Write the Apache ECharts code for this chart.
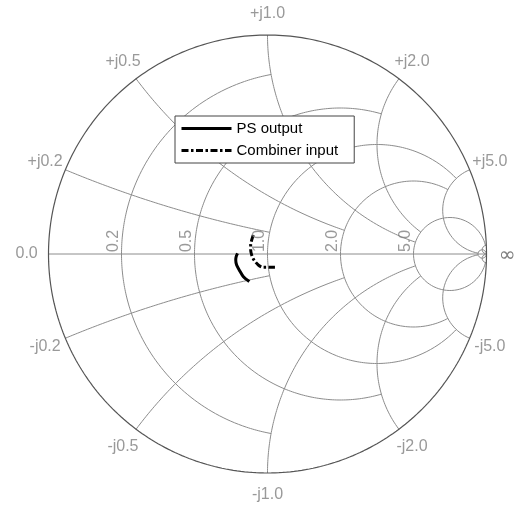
<!DOCTYPE html>
<html>
<head>
<meta charset="utf-8">
<title>Smith chart</title>
<script src="https://cdn.jsdelivr.net/npm/echarts@6/dist/echarts.min.js"></script>
<style>
  html, body { margin: 0; padding: 0; background: #fff; }
  #chart { width: 516px; height: 505px; }
</style>
</head>
<body>
<div id="chart"></div>
<script>
// Reflection coefficient traces (real / imaginary part of Gamma)
const psOutputRe = [-0.137, -0.143, -0.145, -0.141, -0.129, -0.110, -0.083];
const psOutputIm = [0.003, -0.012, -0.027, -0.050, -0.073, -0.104, -0.126];
const combinerRe = [-0.065, -0.072, -0.077, -0.077, -0.072, -0.062, -0.042, -0.019, 0.004, 0.034];
const combinerIm = [0.087, 0.064, 0.041, 0.021, -0.005, -0.027, -0.050, -0.061, -0.061, -0.061];

// Grid values: constant-resistance circles and constant-reactance arcs
const resistanceTicks = [0.2, 0.5, 1.0, 2.0, 5.0];
const reactanceTicks = [0.2, 0.5, 1.0, 2.0, 5.0];
// each grid line stops where it meets this value of the other family
const gridLimit = [1, 2, 5, 5, 50];
const fineValue = 50;

const FONT = '"Liberation Sans", Arial, Helvetica, sans-serif';
const GRID_COLOR = '#8c8c8c';
const LABEL_COLOR = '#808080';

// normalized impedance z = r + jx  ->  Gamma = (z - 1) / (z + 1)
function gamma(r, x) {
  const den = (r + 1) * (r + 1) + x * x;
  return [(r * r - 1 + x * x) / den, (2 * x) / den];
}

function arc(cx, cy, rad, a0, a1, n) {
  const pts = [];
  for (let i = 0; i <= n; i++) {
    const a = a0 + (a1 - a0) * i / n;
    pts.push([cx + rad * Math.cos(a), cy + rad * Math.sin(a)]);
  }
  return pts;
}

// constant-r circle, drawn through the left side between reactance -X and +X
function resistanceCircle(r, X) {
  const c = r / (1 + r), rho = 1 / (1 + r);
  if (X === Infinity) return arc(c, 0, rho, 0, 2 * Math.PI, 240);
  const g = gamma(r, X);
  const a1 = Math.atan2(g[1], g[0] - c);
  return arc(c, 0, rho, a1, 2 * Math.PI - a1, 240);
}

// constant-x arc from the outer circle (r = 0) up to resistance R
function reactanceArc(x, R) {
  const cy = 1 / x, rho = Math.abs(1 / x);
  const g0 = gamma(0, x);
  const g1 = R === Infinity ? [1, 0] : gamma(R, x);
  const a0 = Math.atan2(g0[1] - cy, g0[0] - 1);
  let a1 = Math.atan2(g1[1] - cy, g1[0] - 1);
  if (x > 0) { while (a1 < a0) a1 += 2 * Math.PI; }
  else { while (a1 > a0) a1 -= 2 * Math.PI; }
  return arc(1, cy, rho, a0, a1, 240);
}

function gridSeries(points, color, width) {
  return {
    type: 'line', data: points, showSymbol: false, symbol: 'none', silent: true,
    lineStyle: { color: color, width: width }, z: 1, clip: false, animation: false
  };
}

const series = [];
// real axis
series.push(gridSeries([[-1, 0], [1, 0]], GRID_COLOR, 1));
resistanceTicks.forEach((r, i) => series.push(gridSeries(resistanceCircle(r, gridLimit[i]), GRID_COLOR, 1)));
reactanceTicks.forEach((x, i) => {
  series.push(gridSeries(reactanceArc(x, gridLimit[i]), GRID_COLOR, 1));
  series.push(gridSeries(reactanceArc(-x, gridLimit[i]), GRID_COLOR, 1));
});
series.push(gridSeries(resistanceCircle(fineValue, Infinity), GRID_COLOR, 1));
series.push(gridSeries(reactanceArc(fineValue, Infinity), GRID_COLOR, 1));
series.push(gridSeries(reactanceArc(-fineValue, Infinity), GRID_COLOR, 1));
// outer boundary |Gamma| = 1
series.push(gridSeries(arc(0, 0, 1, 0, 2 * Math.PI, 360), '#555555', 1.2));

// tick labels
const PX = 1 / 219; // one pixel in Gamma units
const labelData = [];
reactanceTicks.forEach(x => {
  [x, -x].forEach(v => {
    const g = gamma(0, v);
    const m = Math.hypot(g[0], g[1]);
    labelData.push({ name: (v > 0 ? '+j' : '-j') + x.toFixed(1), value: [1.1 * g[0] / m, 1.1 * g[1] / m] });
  });
});
labelData.push({ name: '0.0', value: [-1.1, 0] });

const realLabelData = resistanceTicks.map(r => ({
  name: r.toFixed(1),
  value: [gamma(r, 0)[0] - 7.5 * PX, 13 * PX]
}));

const labelSeries = (data, label) => ({
  type: 'scatter', data: data, symbolSize: 1, clip: false, silent: true,
  itemStyle: { color: 'transparent' }, animation: false, z: 6,
  label: Object.assign({ show: true, position: 'inside', formatter: '{b}', color: LABEL_COLOR, fontSize: 16, fontFamily: FONT }, label)
});
series.push(labelSeries(labelData, { rotate: 0 }));
series.push(labelSeries(realLabelData, { rotate: 90 }));

// measured traces
const zip = (a, b) => a.map((v, i) => [v, b[i]]);
series.push({
  name: 'PS output', type: 'line', data: zip(psOutputRe, psOutputIm),
  showSymbol: false, symbol: 'none', smooth: 0.3, z: 5, animation: false,
  lineStyle: { color: '#000', width: 3 }, itemStyle: { color: '#000' }
});
series.push({
  name: 'Combiner input', type: 'line', data: zip(combinerRe, combinerIm),
  showSymbol: false, symbol: 'none', smooth: 0.3, z: 5, animation: false,
  lineStyle: { color: '#000', width: 3, type: [7, 2.5, 2.5, 2.5] }, itemStyle: { color: '#000' }
});

const chart = echarts.init(document.getElementById('chart'), null, { renderer: 'canvas' });
chart.setOption({
  backgroundColor: '#fff',
  animation: false,
  grid: { left: 48.5, top: 35, width: 438, height: 438, containLabel: false },
  xAxis: { type: 'value', min: -1, max: 1, show: false },
  yAxis: { type: 'value', min: -1, max: 1, show: false },
  legend: {
    data: ['PS output', 'Combiner input'],
    orient: 'vertical', left: 175, top: 116,
    padding: [5, 16, 5, 5], itemWidth: 50, itemHeight: 14, itemGap: 7, itemTextGap: 6,
    borderColor: '#444', borderWidth: 1, borderRadius: 0, backgroundColor: '#fff',
    selectedMode: false,
    itemStyle: { color: 'transparent', borderWidth: 0, opacity: 0 },
    lineStyle: { width: 3 },
    textStyle: { fontSize: 15, color: '#000', fontFamily: FONT }
  },
  series: series
});

// infinity label at the open-circuit end of the real axis
const infPos = chart.convertToPixel({ gridIndex: 0 }, [1.094, -0.01]);
chart.setOption({
  graphic: [{
    type: 'text', x: infPos[0], y: infPos[1], silent: true,
    style: {
      text: '\u221e', fill: LABEL_COLOR, align: 'center', verticalAlign: 'middle',
      fontSize: 20, fontFamily: '"DejaVu Sans", sans-serif'
    }
  }]
});
</script>
</body>
</html>
